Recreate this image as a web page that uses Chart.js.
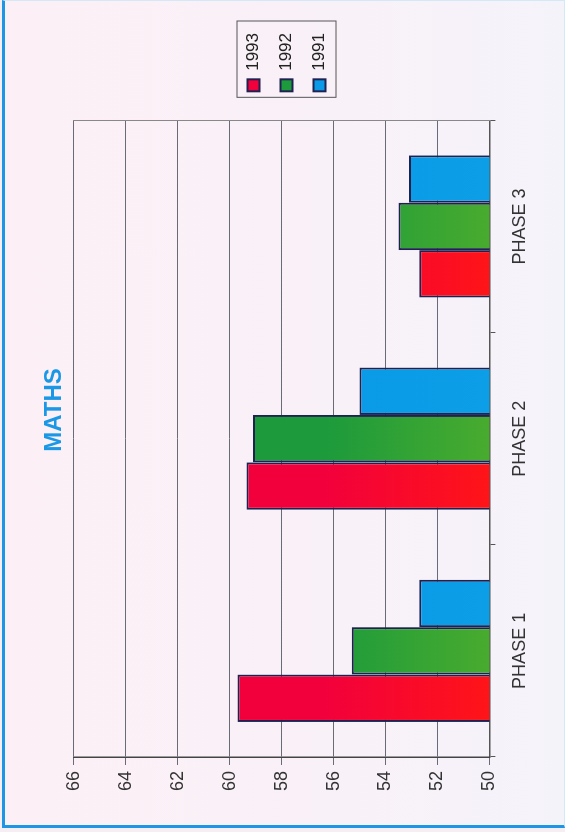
<!DOCTYPE html>
<html>
<head>
<meta charset="utf-8">
<script src="https://cdn.jsdelivr.net/npm/chart.js@4/dist/chart.umd.min.js"></script>
<style>
  html, body { margin: 0; padding: 0; }
  body {
    width: 565px; height: 832px; overflow: hidden; position: relative;
    background: #f7eef3;
  }
  #frame {
    position: absolute; left: 2px; top: 0px; width: 559px; height: 824px;
    border-left: 3px solid #1e96e6; border-bottom: 3px solid #1e96e6;
    border-top: 1px solid #d4e9f6; border-right: 1px solid #d4e9f6;
    background: linear-gradient(90deg, #fcf0f6 0%, #f9f1f8 60%, #f5f3fa 100%);
  }
  #wrap {
    position: absolute; left: 0; top: 0; width: 832px; height: 565px;
    transform-origin: 0 0;
    transform: translate(0, 832px) rotate(-90deg);
  }
</style>
</head>
<body>
<div id="frame"></div>
<div id="wrap"><canvas id="chart" width="832" height="565"></canvas></div>
<script>
const categories = ["PHASE 1", "PHASE 2", "PHASE 3"];
const years = ["1993", "1992", "1991"];
const values1993 = [59.7, 59.35, 52.7];
const values1992 = [55.3, 59.1, 53.5];
const values1991 = [52.7, 55.0, 53.1];
const yMin = 50, yMax = 66, yStep = 2;

/* bar fills fade a little toward the base */
function shade(top, base) {
  return ctx => {
    let area = ctx.chart.chartArea;
    if (!area) return base;
    let g = ctx.chart.ctx.createLinearGradient(0, area.top, 0, area.bottom);
    g.addColorStop(0, top);
    g.addColorStop(0.6, top);
    g.addColorStop(1, base);
    return g;
  };
}

const legendBox = {
  id: "legendBox",
  afterDraw(chart) {
    let boxes = chart.legend.legendHitBoxes;
    if (!boxes || !boxes.length) return;
    let x0 = Math.min(...boxes.map(b => b.left));
    let x1 = Math.max(...boxes.map(b => b.left + b.width));
    let y0 = Math.min(...boxes.map(b => b.top));
    let y1 = Math.max(...boxes.map(b => b.top + b.height));
    let c = chart.ctx;
    c.save();
    c.strokeStyle = "#555";
    c.lineWidth = 1;
    c.strokeRect(x0 - 6, y0 - 8, x1 - x0 + 18, y1 - y0 + 16);
    c.restore();
  }
};

new Chart(document.getElementById("chart"), {
  type: "bar",
  data: {
    labels: categories,
    datasets: [
      { label: years[0], data: values1993, backgroundColor: shade("#f2003c", "#ff1418") },
      { label: years[1], data: values1992, backgroundColor: shade("#1c9a3c", "#48ab2e") },
      { label: years[2], data: values1991, backgroundColor: shade("#0a9ae8", "#0c9ee6") }
    ].map(d => Object.assign(d, {
      borderColor: "#1f2150",
      borderWidth: 2,
      borderSkipped: "bottom",
      categoryPercentage: 0.67,
      barPercentage: 1.0
    }))
  },
  options: {
    responsive: false,
    animation: false,
    layout: { padding: { left: 35, right: 23, top: 28, bottom: 20 } },
    plugins: {
      title: {
        display: true,
        text: "MATHS",
        color: "#1a98e6",
        font: { family: "Liberation Sans, Arial", size: 24, weight: "bold" },
        padding: { top: 12, bottom: 5 }
      },
      legend: {
        position: "right",
        labels: {
          color: "#222",
          font: { family: "Liberation Sans, Arial", size: 17 },
          boxWidth: 12,
          boxHeight: 12,
          padding: 16
        }
      },
      tooltip: { enabled: false }
    },
    scales: {
      x: {
        grid: {
          display: true, drawOnChartArea: false, offset: true,
          tickLength: 6, color: "#555"
        },
        border: { display: true, color: "#555", width: 1.5 },
        ticks: {
          color: "#333", padding: 14,
          font: { family: "Liberation Sans, Arial", size: 18 }
        }
      },
      y: {
        min: yMin, max: yMax,
        grid: { color: "#6a6a78", lineWidth: 1, tickLength: 8 },
        border: { display: true, color: "#444", width: 1.5 },
        ticks: {
          stepSize: yStep, color: "#333", padding: 6,
          font: { family: "Liberation Sans, Arial", size: 18 }
        }
      },
      y2: {
        position: "right",
        min: yMin, max: yMax,
        grid: { display: false },
        ticks: { display: false },
        border: { display: true, color: "#888", width: 1 },
        afterFit: axis => { axis.width = 13; }
      }
    }
  },
  plugins: [legendBox]
});
</script>
</body>
</html>
